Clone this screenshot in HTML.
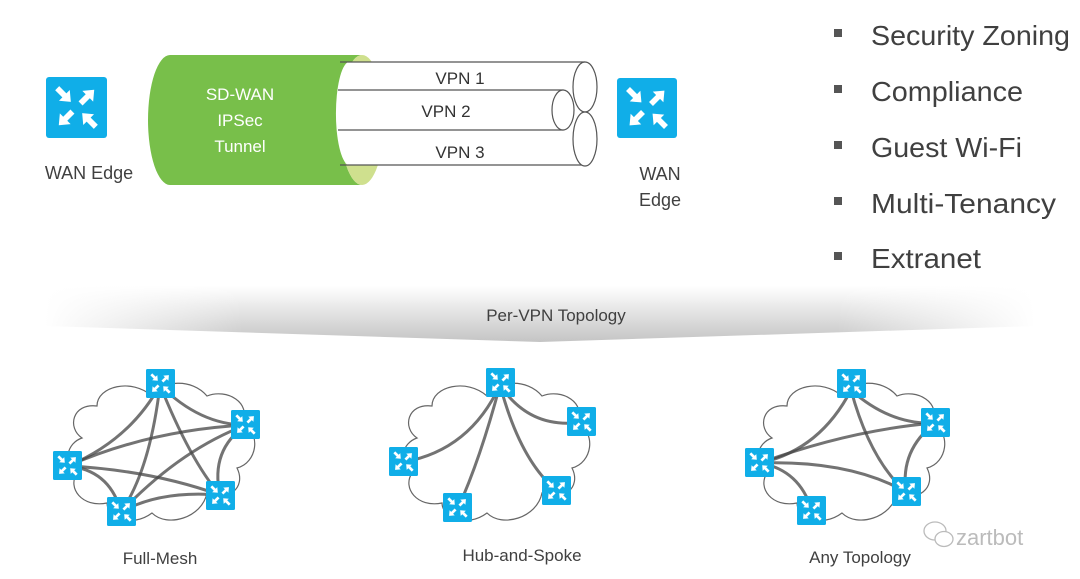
<!DOCTYPE html>
<html><head><meta charset="utf-8"><style>
html,body{margin:0;padding:0;background:#fff;}
svg{display:block;font-family:"Liberation Sans","DejaVu Sans",sans-serif;}
</style></head><body>
<svg width="1080" height="579" viewBox="0 0 1080 579" xmlns="http://www.w3.org/2000/svg">
<defs>
<symbol id="rt" viewBox="0 0 60 60">
<rect x="0" y="0" width="60" height="60" rx="3" fill="#10aee8"/>
<g fill="#fff">
<polygon transform="translate(11,11) rotate(45)" points="0,-2.8 10,-2.8 10,-7.5 19,0 10,7.5 10,2.8 0,2.8"/>
<polygon transform="translate(34,26) rotate(-45)" points="0,-2.8 10,-2.8 10,-7.5 19,0 10,7.5 10,2.8 0,2.8"/>
<polygon transform="translate(26,34) rotate(135)" points="0,-2.8 10,-2.8 10,-7.5 19,0 10,7.5 10,2.8 0,2.8"/>
<polygon transform="translate(49,49) rotate(-135)" points="0,-2.8 10,-2.8 10,-7.5 19,0 10,7.5 10,2.8 0,2.8"/>
</g>
</symbol>
<linearGradient id="ban" x1="0" y1="0" x2="0" y2="1">
<stop offset="0" stop-color="#fff"/><stop offset="1" stop-color="#c4c4c4"/>
</linearGradient>
<linearGradient id="banh" x1="0" y1="0" x2="1" y2="0">
<stop offset="0" stop-color="#fff" stop-opacity="1"/>
<stop offset="0.2" stop-color="#fff" stop-opacity="0"/>
<stop offset="0.8" stop-color="#fff" stop-opacity="0"/>
<stop offset="1" stop-color="#fff" stop-opacity="1"/>
</linearGradient>
<path id="cloud" d="M20,60 C5,50 10,25 35,28 C35,8 70,0 90,18 C100,2 130,0 145,18 C165,10 190,25 180,45 C200,55 195,85 175,90 C185,110 165,125 145,115 C140,140 105,150 90,135 C70,150 45,140 45,125 C20,130 5,110 15,95 C0,85 5,65 20,60 Z" fill="none" stroke="#666" stroke-width="1.2"/>
</defs>

<use href="#rt" x="46" y="77" width="61" height="61"/>
<text x="89" y="179" font-size="18" fill="#404040" text-anchor="middle">WAN Edge</text>

<!-- green tunnel body -->
<path d="M170,55 L362,55 A22,65 0 0 0 362,185 L170,185 A22,65 0 0 1 170,55 Z" fill="#78bf4a"/>
<ellipse cx="362" cy="120" rx="22" ry="65" fill="#cfe08e"/>

<!-- tubes -->
<g stroke="#555" stroke-width="1.2" fill="#fff">
<path d="M348,62 L585,62 L585,165 L348,165 A14,52 0 0 1 348,62 Z" stroke="none"/>
<line x1="340" y1="62" x2="585" y2="62"/>
<line x1="340" y1="165" x2="585" y2="165"/>
<ellipse cx="585" cy="87" rx="12" ry="25"/>
<ellipse cx="585" cy="139" rx="12" ry="27"/>
<path d="M338,90 L563,90 L563,130 L338,130" fill="#fff"/>
<ellipse cx="563" cy="110" rx="11" ry="20"/>
</g>
<text x="460" y="84" font-size="17" fill="#333" text-anchor="middle">VPN 1</text>
<text x="446" y="117" font-size="17" fill="#333" text-anchor="middle">VPN 2</text>
<text x="460" y="158" font-size="17" fill="#333" text-anchor="middle">VPN 3</text>

<g font-size="17" fill="#fff" text-anchor="middle">
<text x="240" y="100">SD-WAN</text>
<text x="240" y="126">IPSec</text>
<text x="240" y="152">Tunnel</text>
</g>

<use href="#rt" x="617" y="78" width="60" height="60"/>
<text x="660" y="180" font-size="18" fill="#404040" text-anchor="middle">WAN</text>
<text x="660" y="206" font-size="18" fill="#404040" text-anchor="middle">Edge</text>

<g fill="#404040" font-size="28">
<rect x="834" y="29" width="8" height="8" fill="#555"/><text x="871" y="45" textLength="199" lengthAdjust="spacingAndGlyphs">Security Zoning</text>
<rect x="834" y="85" width="8" height="8" fill="#555"/><text x="871" y="101" textLength="152" lengthAdjust="spacingAndGlyphs">Compliance</text>
<rect x="834" y="141" width="8" height="8" fill="#555"/><text x="871" y="157" textLength="151" lengthAdjust="spacingAndGlyphs">Guest Wi-Fi</text>
<rect x="834" y="197" width="8" height="8" fill="#555"/><text x="871" y="213" textLength="185" lengthAdjust="spacingAndGlyphs">Multi-Tenancy</text>
<rect x="834" y="252" width="8" height="8" fill="#555"/><text x="871" y="268" textLength="110" lengthAdjust="spacingAndGlyphs">Extranet</text>
</g>

<path d="M45,286 L1035,286 L1035,326 L540,342 L45,326 Z" fill="url(#ban)"/>
<path d="M45,280 L1035,280 L1035,345 L45,345 Z" fill="url(#banh)"/>
<text x="556" y="321" font-size="17" fill="#404040" text-anchor="middle">Per-VPN Topology</text>

<use href="#cloud" transform="translate(62,378)"/>
<g fill="none" stroke="#444" stroke-width="3" stroke-opacity="0.75" stroke-linecap="round">
<path d="M160,385 Q130,440 68,466"/>
<path d="M160,385 Q150,470 121,512"/>
<path d="M160,385 Q190,460 220,495"/>
<path d="M160,385 Q200,425 246,425"/>
<path d="M68,466 Q150,430 246,425"/>
<path d="M68,466 Q150,470 220,495"/>
<path d="M68,466 Q110,470 121,512"/>
<path d="M121,512 Q180,450 246,425"/>
<path d="M121,512 Q160,490 220,495"/>
<path d="M246,425 Q210,450 220,495"/>
</g>
<use href="#rt" x="146" y="369" width="29" height="29"/>
<use href="#rt" x="231" y="410" width="29" height="29"/>
<use href="#rt" x="53" y="451" width="29" height="29"/>
<use href="#rt" x="107" y="497" width="29" height="29"/>
<use href="#rt" x="206" y="481" width="29" height="29"/>
<text x="160" y="564" font-size="17" fill="#404040" text-anchor="middle">Full-Mesh</text>

<use href="#cloud" transform="translate(397,378)"/>
<g fill="none" stroke="#444" stroke-width="3" stroke-opacity="0.75" stroke-linecap="round">
<path d="M500,385 Q470,450 404,462"/>
<path d="M500,385 Q480,460 458,508"/>
<path d="M500,385 Q520,460 556,490"/>
<path d="M500,385 Q530,430 582,422"/>
</g>
<use href="#rt" x="486" y="368" width="29" height="29"/>
<use href="#rt" x="567" y="407" width="29" height="29"/>
<use href="#rt" x="389" y="447" width="29" height="29"/>
<use href="#rt" x="443" y="493" width="29" height="29"/>
<use href="#rt" x="542" y="476" width="29" height="29"/>
<text x="522" y="561" font-size="17" fill="#404040" text-anchor="middle">Hub-and-Spoke</text>

<use href="#cloud" transform="translate(752,378)"/>
<g fill="none" stroke="#444" stroke-width="3" stroke-opacity="0.75" stroke-linecap="round">
<path d="M851,390 Q820,450 760,463"/>
<path d="M851,390 Q870,460 906,492"/>
<path d="M851,390 Q890,425 935,423"/>
<path d="M760,463 Q850,430 935,423"/>
<path d="M760,463 Q850,460 906,492"/>
<path d="M760,463 Q800,470 812,511"/>
<path d="M935,423 Q900,450 906,492"/>
</g>
<use href="#rt" x="837" y="369" width="29" height="29"/>
<use href="#rt" x="921" y="408" width="29" height="29"/>
<use href="#rt" x="745" y="448" width="29" height="29"/>
<use href="#rt" x="797" y="496" width="29" height="29"/>
<use href="#rt" x="892" y="477" width="29" height="29"/>
<text x="860" y="563" font-size="17" fill="#404040" text-anchor="middle">Any Topology</text>

<g fill="none" stroke="#bbb" stroke-width="1.3">
<ellipse cx="935" cy="531" rx="11" ry="9"/>
<ellipse cx="944" cy="539" rx="9" ry="7.5" fill="#fff"/>
</g>
<text x="956" y="545" font-size="22" fill="#bbb">zartbot</text>
</svg>
</body></html>
